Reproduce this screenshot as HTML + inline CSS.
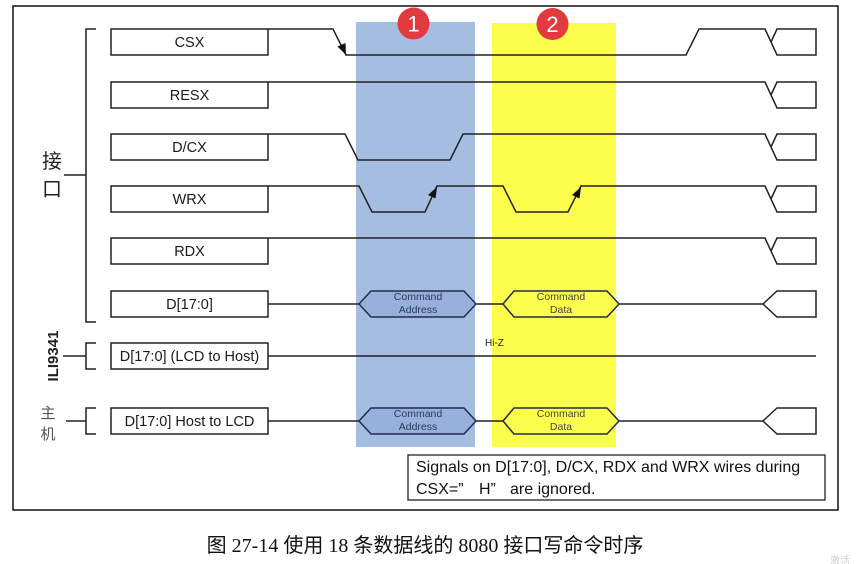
<!DOCTYPE html>
<html><head><meta charset="utf-8"><style>
html,body{margin:0;padding:0;background:#fff;}
svg{display:block;}
</style></head><body>
<svg width="858" height="564" viewBox="0 0 858 564" xmlns="http://www.w3.org/2000/svg" style="font-family:'Liberation Sans','Noto Sans CJK SC',sans-serif">
<rect x="0" y="0" width="858" height="564" fill="#fff"/>
<rect x="356" y="22" width="119" height="425" fill="#a6bde2"/>
<rect x="492" y="23" width="124" height="424" fill="#fdfd4c"/>
<rect x="13" y="6" width="825" height="504" fill="none" stroke="#111" stroke-width="1.5"/>
<circle cx="413.5" cy="23.5" r="16" fill="#e13a3f"/>
<text x="413.5" y="31.5" font-size="22" fill="#fff" text-anchor="middle">1</text>
<circle cx="552.5" cy="24" r="16" fill="#e13a3f"/>
<text x="552.5" y="32" font-size="22" fill="#fff" text-anchor="middle">2</text>
<g fill="#fff" stroke="#222" stroke-width="1.5">
<rect x="111" y="29" width="157" height="26"/>
<rect x="111" y="82" width="157" height="26"/>
<rect x="111" y="134" width="157" height="26"/>
<rect x="111" y="186" width="157" height="26"/>
<rect x="111" y="238" width="157" height="26"/>
<rect x="111" y="291" width="157" height="26"/>
<rect x="111" y="343" width="157" height="26"/>
<rect x="111" y="408" width="157" height="26"/>
</g>
<g font-size="14.5" fill="#1a1a1a" text-anchor="middle">
<text x="189.5" y="47">CSX</text>
<text x="189.5" y="100">RESX</text>
<text x="189.5" y="152">D/CX</text>
<text x="189.5" y="204">WRX</text>
<text x="189.5" y="256">RDX</text>
<text x="189.5" y="309">D[17:0]</text>
<text x="189.5" y="361">D[17:0] (LCD to Host)</text>
<text x="189.5" y="426">D[17:0] Host to LCD</text>
</g>
<g fill="none" stroke="#222" stroke-width="1.5" stroke-linejoin="miter">
<path d="M268,29 L333,29 L346,55 L686,55 L699,29 L765,29 L777,55 L816,55 L816,29 L777,29 L771,42"/>
<path d="M268,82 L765,82 L777,108 L816,108 L816,82 L777,82 L771,95"/>
<path d="M268,134 L345,134 L358,160 L450,160 L463,134 L765,134 L777,160 L816,160 L816,134 L777,134 L771,147"/>
<path d="M268,186 L359,186 L372,212 L425,212 L437,186 L503,186 L516,212 L568,212 L581,186 L765,186 L777,212 L816,212 L816,186 L777,186 L771,199"/>
<path d="M268,238 L765,238 L777,264 L816,264 L816,238 L777,238 L771,251"/>
<path d="M268,304 L359,304 M476,304 L503,304 M619,304 L763,304"/>
<path d="M763,304 L777,291 L816,291 L816,317 L777,317 Z"/>
<path d="M268,356 L816,356"/>
<path d="M268,421 L359,421 M476,421 L503,421 M619,421 L763,421"/>
<path d="M763,421 L777,408 L816,408 L816,434 L777,434 Z"/>
<path d="M96,29 L86,29 L86,322 L96,322 M64,175 L86,175"/>
<path d="M96,343 L86,343 L86,369 L96,369 M63,356 L86,356"/>
<path d="M96,408 L86,408 L86,434 L96,434 M66,421 L86,421"/>
</g>
<g stroke="#1f2d4f" stroke-width="1.5">
<path d="M359,304 L371,291 L464,291 L476,304 L464,317 L371,317 Z" fill="#98b1dc"/>
<path d="M503,304 L514,291 L607,291 L619,304 L607,317 L514,317 Z" fill="#fdfd4c"/>
<path d="M359,421 L371,408 L464,408 L476,421 L464,434 L371,434 Z" fill="#98b1dc"/>
<path d="M503,421 L514,408 L607,408 L619,421 L607,434 L514,434 Z" fill="#fdfd4c"/>
</g>
<g fill="#111">
<polygon points="346,55 337.5,46.5 345.5,43"/>
<polygon points="437,187 435.5,198.5 428,195"/>
<polygon points="581,187 579.5,198.5 572,195"/>
</g>
<g font-size="10.5" text-anchor="middle">
<text x="418" y="300" fill="#2a3a5c">Command</text>
<text x="418" y="313" fill="#2a3a5c">Address</text>
<text x="561" y="300" fill="#444">Command</text>
<text x="561" y="313" fill="#444">Data</text>
<text x="418" y="417" fill="#2a3a5c">Command</text>
<text x="418" y="430" fill="#2a3a5c">Address</text>
<text x="561" y="417" fill="#444">Command</text>
<text x="561" y="430" fill="#444">Data</text>
</g>
<text x="485" y="346" font-size="10" fill="#222">Hi-Z</text>
<text x="52" y="168" font-size="20" fill="#222" text-anchor="middle" style="font-family:'Noto Sans CJK SC',sans-serif">接</text>
<text x="52" y="196" font-size="20" fill="#222" text-anchor="middle" style="font-family:'Noto Sans CJK SC',sans-serif">口</text>
<text x="48" y="418" font-size="15" fill="#555" text-anchor="middle" style="font-family:'Noto Sans CJK SC',sans-serif">主</text>
<text x="48" y="439" font-size="15" fill="#555" text-anchor="middle" style="font-family:'Noto Sans CJK SC',sans-serif">机</text>
<text transform="translate(58,356) rotate(-90)" font-size="15" font-weight="bold" fill="#222" text-anchor="middle">ILI9341</text>
<rect x="408" y="455" width="417" height="45" fill="#fff" stroke="#222" stroke-width="1.3"/>
<text x="416" y="472" font-size="16" fill="#111">Signals on D[17:0], D/CX, RDX and WRX wires during</text>
<text y="494" font-size="16" fill="#111"><tspan x="416">CSX=”</tspan><tspan x="479">H”</tspan><tspan x="510">are ignored.</tspan></text>
<text x="425" y="552" font-size="20" fill="#111" text-anchor="middle" style="font-family:'Liberation Serif','Noto Sans CJK SC',sans-serif">图 27-14 使用 18 条数据线的 8080 接口写命令时序</text>
<text x="830" y="564" font-size="10" fill="#ccc" style="font-family:'Noto Sans CJK SC',sans-serif">激活</text>
</svg>
</body></html>
